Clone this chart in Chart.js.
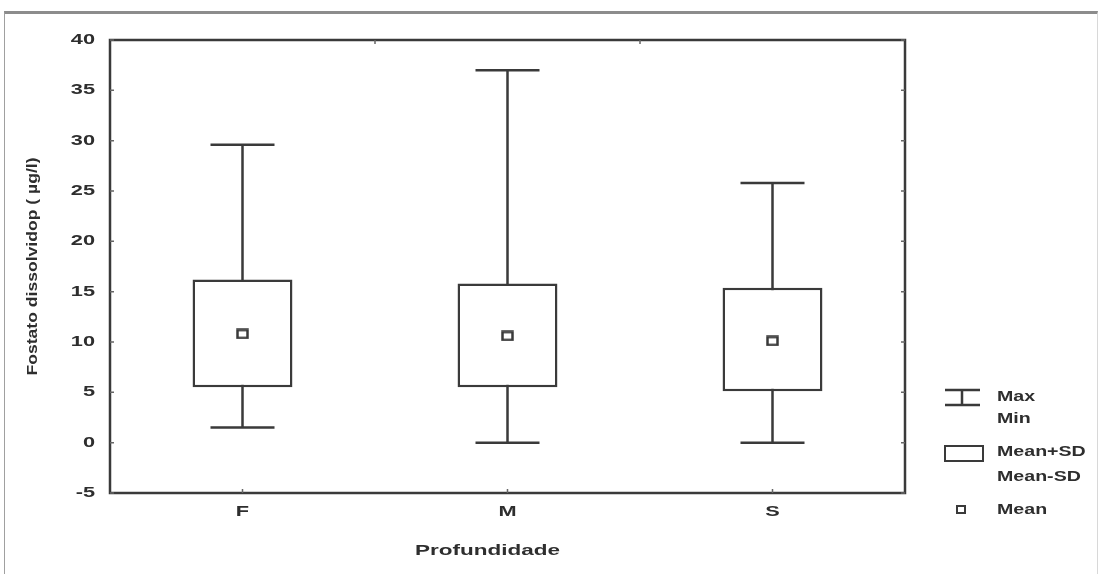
<!DOCTYPE html>
<html>
<head>
<meta charset="utf-8">
<script src="https://cdn.jsdelivr.net/npm/chart.js@4/dist/chart.umd.min.js"></script>
<style>
    html, body { margin: 0; padding: 0; background: #fff; }
    #wrap { position: relative; width: 1100px; height: 574px; }
    #frame {
        position: absolute; left: 4px; top: 11px; right: 2px; bottom: 0;
        border-top: 3px solid #8c8c8c; border-left: 1px solid #a0a0a0; border-right: 1px solid #d8d8d8;
        pointer-events: none;
    }
</style>
</head>
<body>
<div id="wrap">
    <canvas id="chart" width="1100" height="574"></canvas>
    <div id="frame"></div>
</div>
<script>
// Fosfato dissolvido por profundidade
const categories = ['F', 'M', 'S'];
const maxVals = [29.6, 37.0, 25.8];
const minVals = [1.5, 0, 0];
const sdHigh = [16.2, 15.8, 15.4];
const sdLow = [5.5, 5.5, 5.1];
const means = [10.8, 10.6, 10.1];

const yTicks = [-5, 0, 5, 10, 15, 20, 25, 30, 35, 40];

const ink = '#3a3a3a';
const textColor = '#2e2e2e';
const font = '"Liberation Sans", Arial, sans-serif';
const stretch = 1.45;

// wide text: glyphs scaled horizontally around the anchor point
function wideText(ctx, text, x, y, align, sx) {
    const w = ctx.measureText(text).width * sx;
    let left = x;
    if (align === 'center') left = x - w / 2;
    else if (align === 'right') left = x - w;
    ctx.save();
    ctx.translate(left, y);
    ctx.scale(sx, 1);
    ctx.textAlign = 'left';
    ctx.fillText(text, 0, 0);
    ctx.restore();
}

// mean marker: small open rectangle, a bit wider than tall
const meanMarker = document.createElement('canvas');
meanMarker.width = 13;
meanMarker.height = 11;
(() => {
    const m = meanMarker.getContext('2d');
    m.fillStyle = '#fff';
    m.fillRect(0, 0, 13, 11);
    m.strokeStyle = ink;
    m.lineWidth = 2.5;
    m.strokeRect(1.5, 1.5, 10, 8);
})();

// whiskers (max/min), drawn under the boxes
const whiskerPlugin = {
    id: 'whiskers',
    beforeDatasetsDraw(chart) {
        const { ctx, scales: { x, y } } = chart;
        const capHalf = 32;
        ctx.save();
        ctx.strokeStyle = ink;
        ctx.lineWidth = 2.5;
        categories.forEach((c, i) => {
            const px = x.getPixelForValue(i);
            ctx.beginPath();
            ctx.moveTo(px, y.getPixelForValue(maxVals[i]));
            ctx.lineTo(px, y.getPixelForValue(minVals[i]));
            [maxVals[i], minVals[i]].forEach(v => {
                const py = y.getPixelForValue(v);
                ctx.moveTo(px - capHalf, py);
                ctx.lineTo(px + capHalf, py);
            });
            ctx.stroke();
        });
        ctx.restore();
    }
};

// frame, inner ticks, tick labels, axis titles and legend
const decorPlugin = {
    id: 'decor',
    afterDraw(chart) {
        const { ctx, chartArea: a, scales: { x, y } } = chart;
        ctx.save();
        ctx.strokeStyle = ink;
        ctx.lineWidth = 2.5;
        ctx.strokeRect(a.left, a.top, a.right - a.left, a.bottom - a.top);

        ctx.lineWidth = 1.5;
        ctx.strokeStyle = '#666';
        ctx.beginPath();
        yTicks.forEach(v => {
            const py = y.getPixelForValue(v);
            ctx.moveTo(a.left, py); ctx.lineTo(a.left + 4, py);
            ctx.moveTo(a.right, py); ctx.lineTo(a.right - 4, py);
        });
        categories.forEach((c, i) => {
            const px = x.getPixelForValue(i);
            ctx.moveTo(px, a.bottom); ctx.lineTo(px, a.bottom - 4);
            if (i > 0) {
                const bx = (x.getPixelForValue(i - 1) + px) / 2;
                ctx.moveTo(bx, a.top); ctx.lineTo(bx, a.top + 4);
            }
        });
        ctx.stroke();

        ctx.fillStyle = textColor;
        ctx.textBaseline = 'middle';

        // tick labels
        ctx.font = 'bold 15px ' + font;
        yTicks.forEach(v => wideText(ctx, String(v), a.left - 15, y.getPixelForValue(v), 'right', stretch));
        categories.forEach((c, i) => wideText(ctx, c, x.getPixelForValue(i), a.bottom + 19, 'center', stretch));

        // axis titles
        ctx.font = 'bold 15px ' + font;
        wideText(ctx, 'Profundidade', (a.left + a.right) / 2 - 20, 551, 'center', 1.5);
        ctx.save();
        ctx.translate(33, (a.top + a.bottom) / 2);
        ctx.rotate(-Math.PI / 2);
        ctx.font = 'bold 14px ' + font;
        const yTitle = 'Fostato dissolvidop ( µg/l)';
        wideText(ctx, yTitle, 0, 0, 'center', 218 / ctx.measureText(yTitle).width);
        ctx.restore();

        // legend
        const lx = a.right + 40;
        ctx.strokeStyle = ink;
        ctx.lineWidth = 2.5;
        ctx.beginPath();
        ctx.moveTo(lx, 390); ctx.lineTo(lx + 35, 390);
        ctx.moveTo(lx, 405); ctx.lineTo(lx + 35, 405);
        ctx.moveTo(lx + 17, 390); ctx.lineTo(lx + 17, 405);
        ctx.stroke();
        ctx.lineWidth = 2;
        ctx.strokeRect(lx, 446, 38, 15);
        ctx.strokeRect(lx + 12, 506, 8, 7);

        ctx.font = 'bold 14px ' + font;
        const tx = lx + 52;
        wideText(ctx, 'Max', tx, 397, 'left', 1.4);
        wideText(ctx, 'Min', tx, 419, 'left', 1.4);
        wideText(ctx, 'Mean+SD', tx, 452, 'left', 1.4);
        wideText(ctx, 'Mean-SD', tx, 477, 'left', 1.4);
        wideText(ctx, 'Mean', tx, 510, 'left', 1.4);
        ctx.restore();
    }
};

new Chart(document.getElementById('chart').getContext('2d'), {
    data: {
        labels: categories,
        datasets: [
            {
                type: 'bar',
                label: 'Mean±SD',
                data: sdLow.map((lo, i) => [lo, sdHigh[i]]),
                backgroundColor: '#fff',
                borderColor: ink,
                borderWidth: 2.5,
                borderSkipped: false,
                categoryPercentage: 1,
                barPercentage: 0.377,
                order: 2
            },
            {
                type: 'line',
                label: 'Mean',
                data: means,
                showLine: false,
                pointStyle: meanMarker,
                pointRadius: 6,
                order: 1
            }
        ]
    },
    options: {
        responsive: false,
        animation: false,
        layout: { padding: { top: 40, right: 195, left: 0, bottom: 0 } },
        plugins: {
            legend: { display: false },
            tooltip: { enabled: false }
        },
        scales: {
            x: {
                type: 'category',
                offset: true,
                grid: { display: false, drawTicks: false },
                border: { display: false },
                ticks: { display: false },
                afterFit: s => { s.height = 81; }
            },
            y: {
                min: -5,
                max: 40,
                afterBuildTicks: s => { s.ticks = yTicks.map(v => ({ value: v })); },
                grid: { display: false, drawTicks: false },
                border: { display: false },
                ticks: { display: false },
                afterFit: s => { s.width = 110; }
            }
        }
    },
    plugins: [whiskerPlugin, decorPlugin]
});
</script>
</body>
</html>
